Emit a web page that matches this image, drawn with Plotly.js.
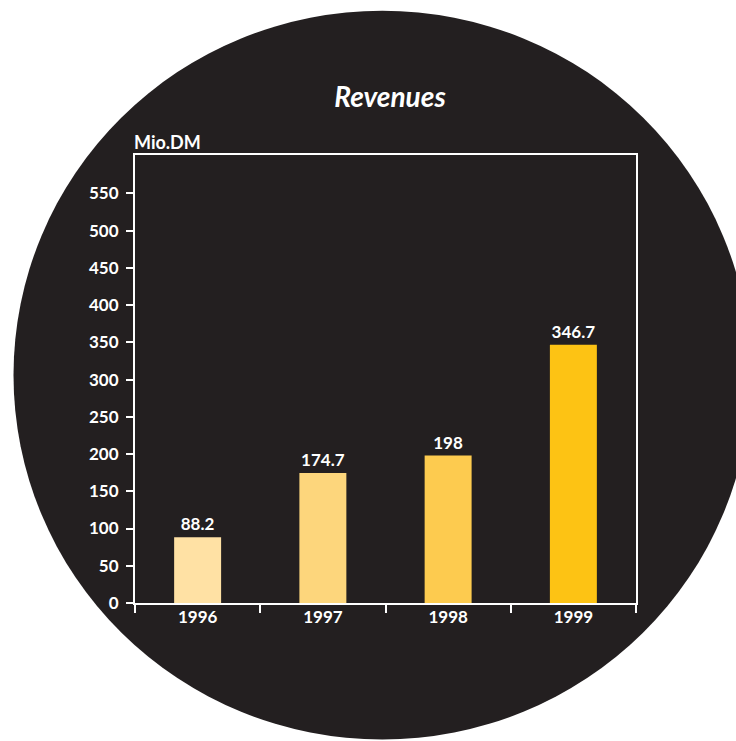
<!DOCTYPE html>
<html>
<head>
<meta charset="utf-8">
<script src="https://cdn.plot.ly/plotly-3.0.1.min.js"></script>
<style>
  html, body { margin: 0; padding: 0; background: #ffffff; }
  #chart { width: 736px; height: 741px; }
</style>
</head>
<body>
<div id="chart"></div>
<script>
const years = ["1996", "1997", "1998", "1999"];
const revenues = [88.2, 174.7, 198, 346.7];
const revenueLabels = ["88.2", "174.7", "198", "346.7"];
const barColors = ["#FFE1A4", "#FDD67C", "#FDCB4F", "#FDC314"];
const yTicks = [0, 50, 100, 150, 200, 250, 300, 350, 400, 450, 500, 550];

const W = 736, H = 741;
const M = { l: 135, r: 100, t: 155, b: 138 };
const pw = W - M.l - M.r, ph = H - M.t - M.b;
const px = x => (x - M.l) / pw;
const py = y => (H - M.b - y) / ph;

const font = { family: "Lato, 'Open Sans', sans-serif", color: "#ffffff", size: 17, weight: 700 };

const trace = {
  type: "bar",
  x: years,
  y: revenues,
  text: revenueLabels,
  textposition: "outside",
  textfont: font,
  cliponaxis: false,
  marker: { color: barColors, line: { width: 0 } },
  hoverinfo: "x+y"
};

const layout = {
  width: W,
  height: H,
  margin: M,
  paper_bgcolor: "#ffffff",
  plot_bgcolor: "rgba(0,0,0,0)",
  showlegend: false,
  bargap: 0.625,
  font: font,
  title: {
    text: "Revenues",
    font: { family: "Lato, 'Open Sans', sans-serif", size: 28, color: "#ffffff", weight: 700, style: "italic" },
    xref: "container", x: 390 / W, xanchor: "center",
    yref: "container", y: 1 - 97 / H, yanchor: "middle"
  },
  xaxis: {
    type: "category",
    range: [-0.5, 3.5],
    tickson: "boundaries",
    ticks: "outside",
    ticklen: 8,
    tickwidth: 2,
    tickcolor: "#ffffff",
    showline: true,
    linecolor: "#ffffff",
    linewidth: 2,
    mirror: true,
    showgrid: false,
    zeroline: false,
    tickfont: font,
    ticklabelstandoff: -2,
    fixedrange: true
  },
  yaxis: {
    range: [0, 601.5],
    tickvals: yTicks,
    ticktext: yTicks.map(String),
    ticks: "outside",
    ticklen: 7,
    tickwidth: 2,
    tickcolor: "#ffffff",
    showline: true,
    linecolor: "#ffffff",
    linewidth: 2,
    mirror: true,
    showgrid: false,
    zeroline: false,
    tickfont: font,
    ticklabelstandoff: 4,
    fixedrange: true
  },
  shapes: [{
    type: "circle",
    xref: "paper", yref: "paper",
    x0: px(13.5), x1: px(751),
    y0: py(739.5), y1: py(10.7),
    fillcolor: "#231F20",
    line: { width: 0 },
    layer: "below"
  }],
  annotations: [{
    text: "Mio.DM",
    xref: "paper", yref: "paper",
    x: px(132), xanchor: "left",
    y: py(142), yanchor: "middle",
    showarrow: false,
    font: { family: "Lato, 'Open Sans', sans-serif", size: 18, color: "#ffffff", weight: 700 }
  }]
};

Plotly.newPlot("chart", [trace], layout, { displayModeBar: false, staticPlot: true });
</script>
</body>
</html>
